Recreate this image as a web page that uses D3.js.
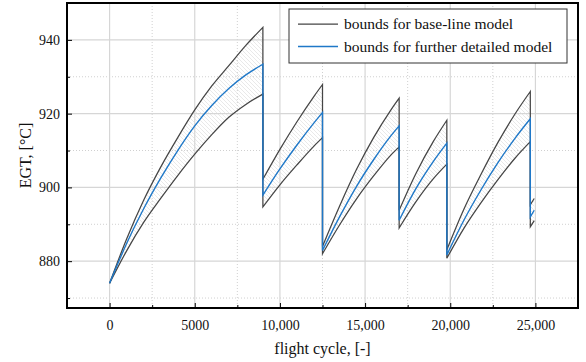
<!DOCTYPE html>
<html>
<head>
<meta charset="utf-8">
<script src="https://cdn.jsdelivr.net/npm/d3@7"></script>
<style>
  body { margin: 0; background: #fff; }
  svg text { font-family: "Liberation Serif", "DejaVu Serif", serif; fill: #111; }
</style>
</head>
<body>
<svg class="EgtChart" width="586" height="362"></svg>
<script>
// flight cycles, with repeated values where the bounds drop after a wash
const cycles = [0, 1000, 2000, 3000, 4000, 5000, 6000, 7000, 8000, 9000,
    9000, 10000, 11000, 12000, 12500,
    12500, 13500, 14500, 15500, 16500, 17000,
    17000, 18000, 19000, 19800,
    19800, 20800, 21800, 22800, 23800, 24700,
    24700, 24930];
const segment = [0, 0, 0, 0, 0, 0, 0, 0, 0, 0,
    1, 1, 1, 1, 1,
    2, 2, 2, 2, 2, 2,
    3, 3, 3, 3,
    4, 4, 4, 4, 4, 4,
    5, 5];
const upperBound = [874, 886, 896.5, 905.5, 913.5, 921, 927.5, 933, 938.5, 943.4,
    902.2, 910.3, 917.8, 924.7, 927.9,
    884, 894.9, 904.9, 913.5, 920.9, 924.2,
    893.8, 903.9, 912.4, 918.2,
    883.1, 894.1, 903.5, 912.2, 919.9, 926,
    895.3, 897];
const detailed = [874, 884.8, 894.2, 902.5, 910, 916.7, 922.2, 926.8, 930.5, 933.4,
    897.9, 905, 911.5, 917.5, 920.3,
    882.9, 892, 900.3, 907.5, 913.9, 916.7,
    891.1, 899.8, 907, 912,
    881.7, 891.1, 899.3, 906.7, 913.3, 918.6,
    892, 893.8];
const lowerBound = [874, 882.8, 890.5, 897, 903.2, 909, 914.3, 919, 922.5, 925.3,
    894.7, 900.7, 906.1, 911.2, 913.5,
    882, 889.8, 896.9, 903.1, 908.7, 911,
    889, 896.2, 902.3, 906.3,
    880.8, 888.9, 895.8, 902.1, 907.9, 912.4,
    889.3, 891];

const xTicks = [0, 5000, 10000, 15000, 20000, 25000];
const xMinor = [2500, 7500, 12500, 17500, 22500];
const yTicks = [880, 900, 920, 940];
const yMinor = [870, 890, 910, 930];
const legendLabels = ['bounds for base-line model', 'bounds for further detailed model'];

const grey = '#454545';
const blue = '#1f78c8';

const margin = { top: 3, right: 8, bottom: 54, left: 67 };
const width = 586 - margin.left - margin.right;
const height = 362 - margin.top - margin.bottom;

const svg = d3.select('.EgtChart');

const defs = svg.append('defs');
defs.append('pattern')
    .attr('id', 'hatch')
    .attr('patternUnits', 'userSpaceOnUse')
    .attr('width', 4)
    .attr('height', 4)
    .append('path')
    .attr('d', 'M-1,-1 L5,5 M-1,3 L1,5 M3,-1 L5,1')
    .attr('stroke', '#dadada')
    .attr('stroke-width', 0.6);

const chart = svg.append('g')
    .attr('transform', `translate(${margin.left}, ${margin.top})`);

const xScale = d3.scaleLinear()
    .domain([-2500, 27500])
    .range([0, width]);

const yScale = d3.scaleLinear()
    .domain([867.3, 950])
    .range([height, 0]);

// grid
chart.append('g')
    .selectAll('line')
    .data(xMinor)
    .enter()
    .append('line')
    .attr('x1', d => xScale(d)).attr('x2', d => xScale(d))
    .attr('y1', 0).attr('y2', height)
    .attr('stroke', '#d0d0d0')
    .attr('stroke-dasharray', '1,2');

chart.append('g')
    .selectAll('line')
    .data(yMinor)
    .enter()
    .append('line')
    .attr('y1', d => yScale(d)).attr('y2', d => yScale(d))
    .attr('x1', 0).attr('x2', width)
    .attr('stroke', '#d0d0d0')
    .attr('stroke-dasharray', '1,2');

chart.append('g')
    .selectAll('line')
    .data(xTicks)
    .enter()
    .append('line')
    .attr('x1', d => xScale(d)).attr('x2', d => xScale(d))
    .attr('y1', 0).attr('y2', height)
    .attr('stroke', '#d6d6d6')
    .attr('stroke-width', 1.2);

chart.append('g')
    .selectAll('line')
    .data(yTicks)
    .enter()
    .append('line')
    .attr('y1', d => yScale(d)).attr('y2', d => yScale(d))
    .attr('x1', 0).attr('x2', width)
    .attr('stroke', '#d6d6d6')
    .attr('stroke-width', 1.2);

// data split into segments
const points = cycles.map((c, i) => ({
    x: c, seg: segment[i], hi: upperBound[i], mid: detailed[i], lo: lowerBound[i]
}));
const segments = d3.groups(points, d => d.seg).map(g => g[1]);

const area = d3.area()
    .x(d => xScale(d.x))
    .y0(d => yScale(d.lo))
    .y1(d => yScale(d.hi))
    .curve(d3.curveMonotoneX);

chart.append('g')
    .selectAll('path')
    .data(segments)
    .enter()
    .append('path')
    .attr('d', area)
    .attr('fill', 'url(#hatch)');

function joinedPath(key)
{
    const line = d3.line()
        .x(d => xScale(d.x))
        .y(d => yScale(d[key]))
        .curve(d3.curveMonotoneX);
    return segments.map((s, i) => {
        const p = line(s);
        return i == 0 ? p : 'L' + p.slice(1);
    }).join('');
}

chart.append('path')
    .attr('d', joinedPath('hi'))
    .attr('fill', 'none')
    .attr('stroke', grey)
    .attr('stroke-width', 1.25);

chart.append('path')
    .attr('d', joinedPath('lo'))
    .attr('fill', 'none')
    .attr('stroke', grey)
    .attr('stroke-width', 1.25);

chart.append('path')
    .attr('d', joinedPath('mid'))
    .attr('fill', 'none')
    .attr('stroke', blue)
    .attr('stroke-width', 1.4);

// axes with inward ticks
const xAxis = chart.append('g')
    .attr('transform', `translate(0, ${height})`)
    .call(d3.axisBottom(xScale)
        .tickValues(xTicks)
        .tickSize(-5)
        .tickPadding(12)
        .tickFormat(d => d < 10000 ? d : d3.format(',')(d)));
xAxis.select('.domain').remove();
xAxis.selectAll('text').attr('font-size', 14).attr('fill', '#111');

chart.append('g')
    .attr('transform', `translate(0, ${height})`)
    .call(d3.axisBottom(xScale).tickValues(xMinor).tickSize(-3).tickFormat(''))
    .select('.domain').remove();

const yAxis = chart.append('g')
    .call(d3.axisLeft(yScale)
        .tickValues(yTicks)
        .tickSize(-5)
        .tickPadding(7));
yAxis.select('.domain').remove();
yAxis.selectAll('text').attr('font-size', 14).attr('fill', '#111');

chart.append('g')
    .call(d3.axisLeft(yScale).tickValues(yMinor).tickSize(-3).tickFormat(''))
    .select('.domain').remove();

// frame
chart.append('rect')
    .attr('x', 0).attr('y', 0)
    .attr('width', width).attr('height', height)
    .attr('fill', 'none')
    .attr('stroke', '#000')
    .attr('stroke-width', 2);

chart.append('text')
    .attr('x', width / 2)
    .attr('y', height + 46)
    .attr('text-anchor', 'middle')
    .attr('font-size', 16)
    .text('flight cycle, [-]');

chart.append('text')
    .attr('transform', 'rotate(-90)')
    .attr('x', -height / 2)
    .attr('y', -36)
    .attr('text-anchor', 'middle')
    .attr('font-size', 16)
    .text('EGT, [°C]');

// legend
const legend = chart.append('g')
    .attr('transform', 'translate(222, 6)');

legend.append('rect')
    .attr('width', 278)
    .attr('height', 54)
    .attr('fill', '#fff')
    .attr('stroke', '#333')
    .attr('stroke-width', 1);

legendLabels.forEach((label, i) => {
    const y = 15 + i * 22.5;
    legend.append('line')
        .attr('x1', 9).attr('x2', 49)
        .attr('y1', y).attr('y2', y)
        .attr('stroke', i == 0 ? grey : blue)
        .attr('stroke-width', i == 0 ? 1.25 : 1.4);
    legend.append('text')
        .attr('x', 55)
        .attr('y', y + 5)
        .attr('font-size', 15.5)
        .text(label);
});
</script>
</body>
</html>
